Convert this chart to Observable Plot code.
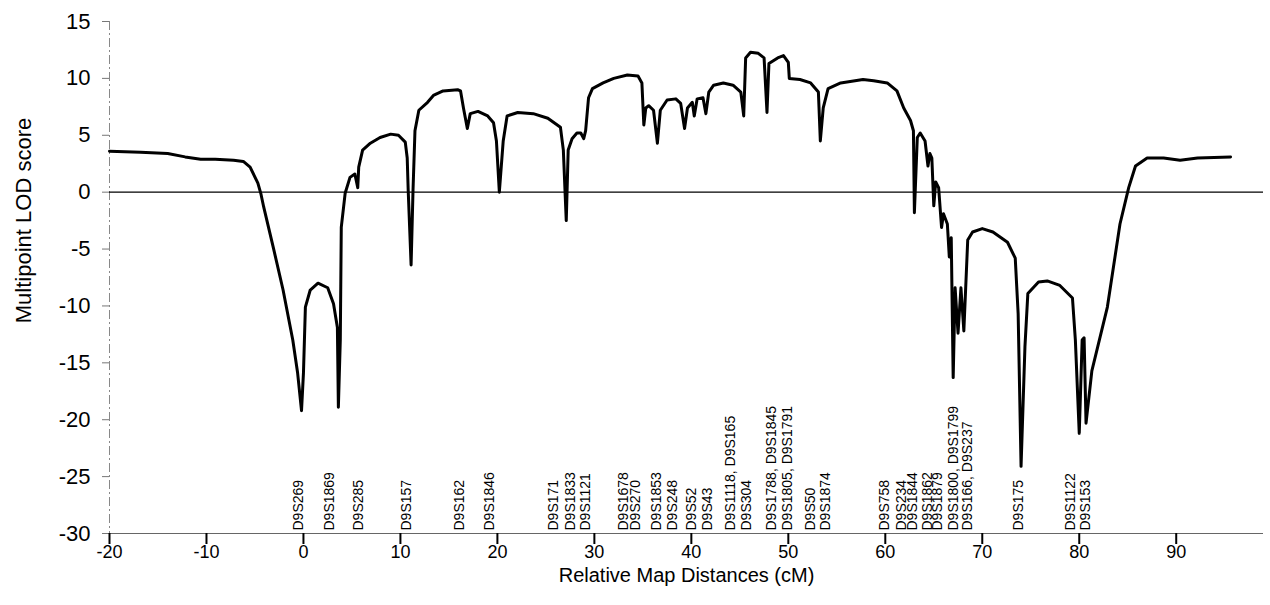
<!DOCTYPE html>
<html><head><meta charset="utf-8">
<script src="https://cdn.jsdelivr.net/npm/d3@7"></script>
<script src="https://cdn.jsdelivr.net/npm/@observablehq/plot@0.6"></script>
<style>html,body{margin:0;padding:0;background:#fff} svg{display:block}</style>
</head><body><div id="chart"></div>
<script>
// Relative map distance (cM) and multipoint LOD score
const cM = [-20,-16.8,-14.0,-12.2,-10.6,-9.1,-7.2,-6.2,-5.5,-4.7,
-4.4,-4.1,-3.1,-2.1,-1.1,-0.6,-0.2,0.0,0.2,0.7,
1.5,2.5,3.1,3.5,3.6,3.8,3.9,4.3,4.8,5.3,
5.6,5.7,6.1,6.9,7.9,9.0,9.8,10.5,10.7,10.8,
11.1,11.3,11.5,11.9,12.8,13.4,14.4,15.9,16.2,16.5,
16.9,17.2,18.0,19.0,19.6,19.9,20.2,20.6,21.0,22.1,
23.7,25.2,26.5,26.8,27.1,27.3,27.7,28.2,28.6,28.9,
29.1,29.4,29.8,30.9,32.0,33.4,34.5,34.9,35.1,35.3,
35.6,36.1,36.5,36.8,37.5,38.4,38.9,39.3,39.6,40.1,
40.3,40.6,41.2,41.5,41.8,42.3,43.3,44.3,45.1,45.4,
45.6,46.1,46.9,47.5,47.8,48.0,48.9,49.5,50.0,50.1,
51.2,52.3,53.1,53.3,53.6,54.1,55.4,57.7,58.8,60.2,
61.2,61.9,62.6,62.9,63.0,63.3,63.6,64.1,64.4,64.6,
64.8,65.0,65.2,65.5,65.8,66.0,66.4,66.6,66.8,67.0,
67.2,67.5,67.8,68.1,68.5,69.0,70.0,71.1,72.6,73.4,
73.7,74.0,74.4,74.7,75.8,76.7,78.0,79.3,79.6,80.0,
80.3,80.5,80.7,81.3,82.9,84.2,85.1,85.8,87.0,88.7,
90.4,92.2,95.6];
const lod = [3.6,3.5,3.4,3.1,2.9,2.9,2.8,2.7,2.2,0.8,
-0.1,-1.3,-4.9,-8.6,-13.0,-15.9,-19.2,-15.9,-10.1,-8.6,
-8.0,-8.4,-9.8,-11.9,-18.9,-13.0,-3.1,-0.1,1.3,1.6,
0.4,2.2,3.7,4.3,4.8,5.1,5.0,4.4,3.0,0.2,
-6.4,0.2,5.4,7.2,7.9,8.5,8.9,9.0,8.9,7.4,
5.6,6.9,7.1,6.7,6.1,4.5,0.0,4.5,6.7,7.0,
6.9,6.5,5.7,3.7,-2.5,3.7,4.7,5.2,5.2,4.7,
5.4,8.3,9.1,9.6,10.0,10.3,10.2,9.6,5.9,7.4,
7.6,7.2,4.3,7.2,8.1,8.2,7.8,5.6,7.4,7.9,
6.7,8.2,8.3,6.9,8.8,9.4,9.6,9.4,8.8,6.7,
11.8,12.3,12.2,11.8,7.0,11.3,11.8,12.0,11.4,10.0,
9.9,9.6,8.8,4.5,7.4,9.1,9.6,9.9,9.8,9.6,
8.9,7.4,6.3,5.4,-1.8,4.8,5.2,4.5,2.3,3.4,
3.0,-1.2,0.9,0.4,-3.1,-1.9,-2.8,-5.7,-4.0,-16.3,
-8.4,-12.4,-8.4,-12.2,-4.2,-3.5,-3.2,-3.5,-4.4,-5.8,
-10.7,-24.1,-13.6,-8.9,-7.9,-7.8,-8.2,-9.3,-13.0,-21.2,
-13.0,-12.8,-20.3,-15.7,-10.1,-2.8,0.4,2.3,3.0,3.0,
2.8,3.0,3.1];

// Marker labels along the bottom and their map positions (cM)
const markerNames = ["D9S269","D9S1869","D9S285","D9S157","D9S162","D9S1846",
"D9S171","D9S1833","D9S1121","D9S1678","D9S270","D9S1853","D9S248","D9S52","D9S43",
"D9S1118, D9S165","D9S304","D9S1788, D9S1845","D9S1805, D9S1791","D9S50","D9S1874",
"D9S758","D9S234","D9S1844","D9S1862","D9S1879","D9S1800, D9S1799","D9S166, D9S237",
"D9S175","D9S1122","D9S153"];
const markerPos = [0.0,3.2,6.1,11.1,16.6,19.6,
26.3,28.0,29.6,33.5,34.7,36.9,38.5,40.5,42.1,
44.5,46.1,48.7,50.4,52.8,54.3,
60.4,62.1,63.3,64.8,65.8,67.5,68.9,
74.2,79.6,81.1];

const xTicks = [-20,-10,0,10,20,30,40,50,60,70,80,90];
const yTicks = [15,10,5,0,-5,-10,-15,-20,-25,-30];
const xTitle = "Relative Map Distances (cM)";
const yTitle = "Multipoint LOD score";

const curve = cM.map((x, i) => ({x, y: lod[i]}));
const markers = markerNames.map((t, i) => ({t, x: markerPos[i]}));

const chart = Plot.plot({
  width: 1270, height: 605,
  marginLeft: 109, marginRight: 7, marginTop: 21, marginBottom: 72,
  style: {fontFamily: "'Liberation Sans', Arial, sans-serif", background: "#fff", color: "#000"},
  x: {domain: [-20, 99], label: null},
  y: {domain: [-30, 15], label: null},
  marks: [
    Plot.ruleX([-20], {stroke: "#888", strokeWidth: 1, strokeDasharray: "9,3,2,3"}),
    Plot.ruleY([-30], {stroke: "#666", strokeWidth: 1}),
    Plot.ruleY([0], {stroke: "#000", strokeWidth: 1.4}),
    Plot.axisY({ticks: yTicks, tickSize: 7, tickPadding: 12, fontSize: 22, label: null,
      tickFormat: d => String(d), stroke: "#777"}),
    Plot.axisX({ticks: xTicks, tickSize: 11, tickPadding: 1, fontSize: 18, label: null,
      tickFormat: d => String(d), strokeWidth: 2}),
    Plot.line(curve, {x: "x", y: "y", stroke: "#000", strokeWidth: 3, strokeLinejoin: "round", strokeLinecap: "round"}),
    Plot.text(markers, {x: "x", frameAnchor: "bottom", text: "t", rotate: -90, textAnchor: "start",
      dy: -3, fontSize: 14, fill: "#000"}),
    Plot.text([xTitle], {frameAnchor: "bottom", dy: 48, fontSize: 20, fill: "#000"}),
    Plot.text([yTitle], {frameAnchor: "left", textAnchor: "middle", rotate: -90, dx: -86, dy: -57, fontSize: 22, fill: "#000"})
  ]
});
document.getElementById("chart").appendChild(chart);
</script>
</body></html>
